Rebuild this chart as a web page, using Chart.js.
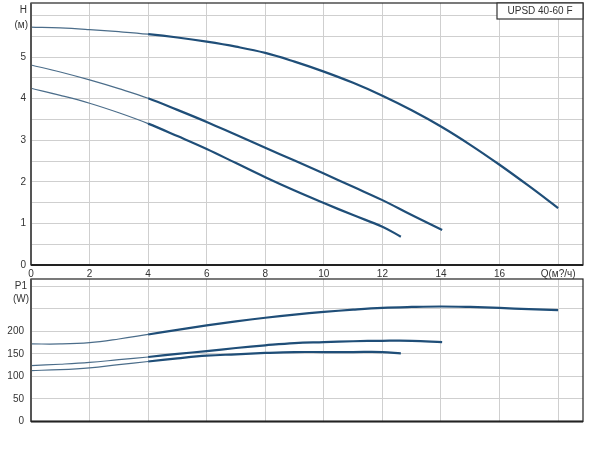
<!DOCTYPE html>
<html>
<head>
<meta charset="utf-8">
<script src="https://cdn.jsdelivr.net/npm/chart.js@4.4.0/dist/chart.umd.min.js"></script>
<style>
  body { margin: 0; background: #fff; }
  .box { position: absolute; left: 0; }
</style>
</head>
<body>
<div class="box" style="top:0"><canvas id="head-chart" width="600" height="290"></canvas></div>
<div class="box" style="top:270px"><canvas id="power-chart" width="600" height="185"></canvas></div>
<script>
// Flow points (m3/h) for the three speed curves
const qMax = [0, 1, 2, 3, 4, 5, 6, 7, 8, 9, 10, 11, 12, 13, 14, 15, 16, 17, 18];
const qMid = [0, 1, 2, 3, 4, 5, 6, 7, 8, 9, 10, 11, 12, 13, 14.04];
const qMin = [0, 1, 2, 3, 4, 5, 6, 7, 8, 9, 10, 11, 12, 12.63];

// Head H (m)
const hMax = [5.72, 5.70, 5.66, 5.61, 5.55, 5.47, 5.37, 5.25, 5.10, 4.89, 4.65, 4.38, 4.07, 3.72, 3.33, 2.89, 2.41, 1.90, 1.37];
const hMid = [4.81, 4.64, 4.45, 4.24, 4.01, 3.73, 3.44, 3.13, 2.82, 2.51, 2.20, 1.88, 1.56, 1.20, 0.84];
const hMin = [4.25, 4.08, 3.89, 3.66, 3.40, 3.10, 2.79, 2.45, 2.11, 1.79, 1.49, 1.20, 0.92, 0.68];

// Power P1 (W)
const pMax = [172, 172, 175, 183, 193, 203, 213, 222, 230, 237, 243, 248, 252, 254, 255, 254, 252, 249, 247];
const pMid = [124, 127, 131, 137, 143, 150, 156, 163, 169, 174, 176, 178, 179, 179, 176];
const pMin = [113, 115, 119, 126, 133, 140, 146, 149, 152, 154, 154, 154, 154, 151];

const modelName = 'UPSD 40-60 F';
const flowLabel = 'Q(м?/ч)';

const LINE_COLOR = '#1f4e78';
const THIN_COLOR = '#4b6d8a';
const GRID_COLOR = '#cfcfcf';
const TEXT_COLOR = '#333';
const FONT = { family: 'Arial, "Liberation Sans", sans-serif', size: 10 };

function toPoints(xs, ys) {
    return xs.map((x, i) => ({ x: x, y: ys[i] }));
}

// thin at low flow, heavier afterwards (like the original print)
function curve(xs, ys) {
    return {
        data: toPoints(xs, ys),
        borderColor: LINE_COLOR,
        borderWidth: 2.2,
        pointRadius: 0,
        tension: 0.4,
        segment: {
            borderWidth: ctx => ctx.p0.parsed.x < 3.4 ? 1.2 : 2.2,
            borderColor: ctx => ctx.p0.parsed.x < 3.4 ? THIN_COLOR : LINE_COLOR
        }
    };
}

// keep chart.js from reserving room for edge tick labels
function noEdgePadding(s) {
    s.paddingTop = 0;
    s.paddingBottom = 0;
    s.paddingLeft = 0;
    s.paddingRight = 0;
}

// frame around the plot area + unit labels
function framePlugin(units) {
    return {
        id: 'frame',
        afterDraw(chart) {
            const a = chart.chartArea;
            const c = chart.ctx;
            c.save();
            c.strokeStyle = '#222';
            c.lineWidth = 1.2;
            c.strokeRect(a.left, a.top, a.right - a.left, a.bottom - a.top);
            c.lineWidth = 2;
            c.strokeStyle = '#555';
            c.beginPath();
            c.moveTo(a.left, a.top);
            c.lineTo(a.left, a.bottom);
            c.stroke();
            c.strokeStyle = '#222';
            c.beginPath();
            c.moveTo(a.left, a.bottom);
            c.lineTo(a.right, a.bottom);
            c.stroke();

            c.fillStyle = TEXT_COLOR;
            c.font = '10px Arial, "Liberation Sans", sans-serif';
            c.textAlign = 'right';
            c.textBaseline = 'middle';
            units.forEach(u => c.fillText(u.text, u.x, u.y));
            c.restore();
        }
    };
}

const titlePlugin = {
    id: 'modelBox',
    afterDraw(chart) {
        const a = chart.chartArea;
        const c = chart.ctx;
        c.save();
        c.fillStyle = '#fff';
        c.fillRect(a.right - 86, a.top, 86, 16);
        c.strokeStyle = '#333';
        c.lineWidth = 1.2;
        c.strokeRect(a.right - 86, a.top, 86, 16);
        c.fillStyle = TEXT_COLOR;
        c.font = '10px Arial, "Liberation Sans", sans-serif';
        c.textAlign = 'center';
        c.textBaseline = 'middle';
        c.fillText(modelName, a.right - 43, a.top + 8.5);
        c.restore();
    }
};

const X_MAX = 18.85;

new Chart(document.getElementById('head-chart'), {
    type: 'line',
    data: { datasets: [curve(qMax, hMax), curve(qMid, hMid), curve(qMin, hMin)] },
    options: {
        responsive: false,
        animation: false,
        devicePixelRatio: 1,
        layout: { padding: { top: 3, right: 17, left: 0, bottom: 0 } },
        plugins: { legend: { display: false }, tooltip: { enabled: false } },
        scales: {
            x: {
                type: 'linear',
                min: 0,
                max: X_MAX,
                afterFit: s => { s.height = 25; noEdgePadding(s); },
                grid: { color: GRID_COLOR, drawTicks: false },
                border: { display: false },
                ticks: {
                    stepSize: 2,
                    includeBounds: false,
                    padding: 3,
                    color: TEXT_COLOR,
                    font: FONT,
                    maxRotation: 0,
                    autoSkip: false,
                    callback: v => v === 18 ? flowLabel : v
                }
            },
            y: {
                min: 0,
                max: 6.3,
                afterFit: s => { s.width = 31; noEdgePadding(s); },
                grid: { color: GRID_COLOR, drawTicks: false },
                border: { display: false },
                ticks: {
                    stepSize: 0.5,
                    includeBounds: false,
                    padding: 5,
                    color: TEXT_COLOR,
                    font: FONT,
                    callback: v => (Number.isInteger(v) && v < 6) ? v : ''
                }
            }
        }
    },
    plugins: [framePlugin([{ text: 'H', x: 27, y: 10 }, { text: '(м)', x: 28, y: 25 }]), titlePlugin]
});

new Chart(document.getElementById('power-chart'), {
    type: 'line',
    data: { datasets: [curve(qMax, pMax), curve(qMid, pMid), curve(qMin, pMin)] },
    options: {
        responsive: false,
        animation: false,
        devicePixelRatio: 1,
        layout: { padding: { top: 9, right: 17, left: 0, bottom: 0 } },
        plugins: { legend: { display: false }, tooltip: { enabled: false } },
        scales: {
            x: {
                type: 'linear',
                min: 0,
                max: X_MAX,
                afterFit: s => { s.height = 33.5; noEdgePadding(s); },
                grid: { color: GRID_COLOR, drawTicks: false },
                border: { display: false },
                ticks: { stepSize: 2, includeBounds: false, display: false }
            },
            y: {
                min: 0,
                max: 316,
                afterFit: s => { s.width = 31; noEdgePadding(s); },
                grid: { color: GRID_COLOR, drawTicks: false },
                border: { display: false },
                ticks: {
                    stepSize: 50,
                    includeBounds: false,
                    padding: 7,
                    color: TEXT_COLOR,
                    font: FONT,
                    callback: v => v <= 200 ? v : ''
                }
            }
        }
    },
    plugins: [framePlugin([{ text: 'P1', x: 27, y: 16 }, { text: '(W)', x: 29, y: 29 }])]
});
</script>
</body>
</html>
